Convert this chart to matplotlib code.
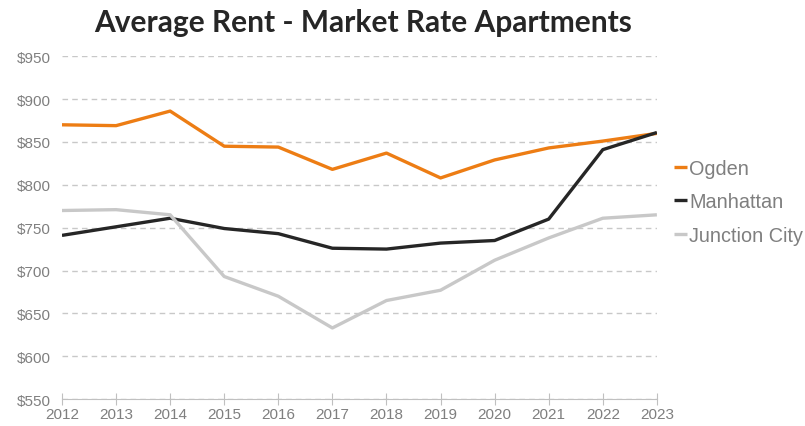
import matplotlib.pyplot as plt
from matplotlib.ticker import FuncFormatter

# --- data ---
years = list(range(2012, 2024))
ogden = [870, 869, 886, 845, 844, 818, 837, 808, 829, 843, 851, 860]
manhattan = [741, 751, 761, 749, 743, 726, 725, 732, 735, 760, 841, 861]
junction_city = [770, 771, 765, 693, 670, 633, 665, 677, 712, 738, 761, 765]

label_color = '#7f7f7f'

fig = plt.figure(figsize=(8.05, 4.27), dpi=100)
ax = fig.add_axes([0.077, 0.063, 0.739, 0.803])

ax.plot(years, ogden, color='#ED7D14', lw=2.4, label='Ogden', solid_capstyle='butt')
ax.plot(years, manhattan, color='#262626', lw=2.4, label='Manhattan', solid_capstyle='butt')
ax.plot(years, junction_city, color='#C8C8C8', lw=2.4, label='Junction City', solid_capstyle='butt')

ax.set_xlim(2012, 2023)
ax.set_ylim(550, 950)
ax.set_xticks(years)
ax.set_yticks(range(550, 951, 50))
ax.yaxis.set_major_formatter(FuncFormatter(lambda v, p: f'${v:.0f}'))

ax.grid(axis='y', color='#c8c8c8', ls=(0, (4, 3)), lw=1)
ax.set_axisbelow(True)
for s in ['top', 'right', 'left']:
    ax.spines[s].set_visible(False)
ax.spines['bottom'].set_color('#c0c0c0')
ax.tick_params(axis='x', direction='inout', length=8, color='#c0c0c0',
               labelcolor=label_color, labelsize=11, pad=2)
ax.tick_params(axis='y', length=0, labelcolor=label_color, labelsize=11, pad=8)
for t in ax.get_xticklabels() + ax.get_yticklabels():
    t.set_fontfamily('Liberation Sans')

fig.suptitle('Average Rent - Market Rate Apartments', x=0.451, y=0.978,
             fontsize=21.5, fontweight='bold', color='#262626', fontfamily='Lato')

leg = ax.legend(loc='center left', bbox_to_anchor=(1.008, 0.575), frameon=False,
                handlelength=0.7, handletextpad=0.1, labelspacing=0.72,
                borderaxespad=0.2,
                prop={'family': 'Liberation Sans', 'size': 14.3})
for t in leg.get_texts():
    t.set_color(label_color)

fig.savefig('out.png', dpi=100)
